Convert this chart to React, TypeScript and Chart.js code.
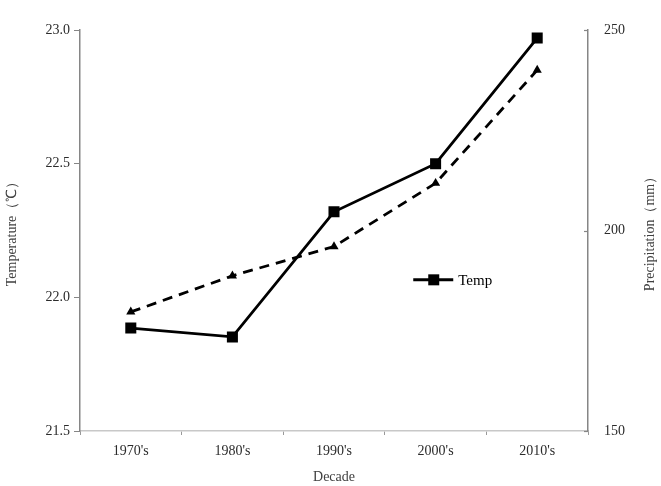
import React, { useEffect, useRef } from "react";
import { Chart, registerables } from "chart.js";

Chart.register(...registerables);

const decades = ["1970's", "1980's", "1990's", "2000's", "2010's"];
const temperature = [21.885, 21.852, 22.32, 22.5, 22.97];
const precipitation = [179.7, 188.7, 196, 211.8, 240];
const tempTicks = [21.5, 22.0, 22.5, 23.0];
const precipTicks = [150, 200, 250];

const SERIF = "'Liberation Serif', 'Times New Roman', serif";

const legendPlugin = {
  id: "innerLegend",
  afterDraw(chart: any) {
    const { ctx, chartArea } = chart;
    const x0 = chartArea.left + (chartArea.right - chartArea.left) * 0.656;
    const y0 = chartArea.top + (chartArea.bottom - chartArea.top) * 0.623;
    ctx.save();
    ctx.strokeStyle = "#000";
    ctx.lineWidth = 3;
    ctx.beginPath();
    ctx.moveTo(x0, y0);
    ctx.lineTo(x0 + 40, y0);
    ctx.stroke();
    ctx.fillStyle = "#000";
    ctx.fillRect(x0 + 15, y0 - 5.5, 11, 11);
    ctx.font = "15px " + SERIF;
    ctx.textBaseline = "middle";
    ctx.textAlign = "left";
    ctx.fillText("Temp", x0 + 45, y0 + 1);
    ctx.restore();
  },
};

const rightAxisPlugin = {
  id: "rightAxisExtras",
  afterDraw(chart: any) {
    const scale = chart.scales.y1;
    if (!scale) return;
    const { ctx, chartArea } = chart;
    ctx.save();
    ctx.strokeStyle = "#868686";
    ctx.lineWidth = 1.2;
    for (const v of precipTicks) {
      const y = Math.round(scale.getPixelForValue(v)) + 0.5;
      ctx.beginPath();
      ctx.moveTo(scale.left, y);
      ctx.lineTo(scale.left - 4, y);
      ctx.stroke();
    }
    // axis title, reading bottom-to-top like the left one
    ctx.translate(scale.right - 11, (chartArea.top + chartArea.bottom) / 2);
    ctx.rotate(-Math.PI / 2);
    ctx.fillStyle = "#404040";
    ctx.font = "14px " + SERIF;
    ctx.textAlign = "center";
    ctx.textBaseline = "middle";
    ctx.fillText("Precipitation（mm）", 0, 0);
    ctx.restore();
  },
};

export default function App() {
  const ref = useRef<HTMLCanvasElement | null>(null);

  useEffect(() => {
    document.body.style.margin = "0";
    const canvas = ref.current;
    if (!canvas) return;
    const chart = new Chart(canvas, {
      type: "line",
      data: {
        labels: decades,
        datasets: [
          {
            label: "Temp",
            data: temperature,
            yAxisID: "y",
            borderColor: "#000",
            backgroundColor: "#000",
            borderWidth: 2.8,
            pointStyle: "rect",
            pointRadius: 7.8,
            pointBorderWidth: 0,
            tension: 0,
          },
          {
            label: "Precip",
            data: precipitation,
            yAxisID: "y1",
            borderColor: "#000",
            backgroundColor: "#000",
            borderWidth: 2.8,
            borderDash: [10, 7],
            pointStyle: "triangle",
            pointRadius: 5.3,
            pointBorderWidth: 0,
            tension: 0,
          },
        ],
      },
      options: {
        responsive: false,
        animation: false,
        devicePixelRatio: 1,
        layout: { padding: { top: 30, left: 0, right: 0, bottom: 0 } },
        plugins: {
          legend: { display: false },
          tooltip: { enabled: false },
        },
        scales: {
          x: {
            type: "category",
            offset: true,
            afterFit(scale: any) {
              scale.height = 55;
            },
            grid: {
              offset: true,
              drawOnChartArea: false,
              drawTicks: true,
              tickLength: 4,
              color: "#999",
            },
            border: { color: "#c8c8c8", width: 1.5 },
            ticks: {
              color: "#2b2b2b",
              font: { family: SERIF, size: 14 },
              padding: 8,
              maxRotation: 0,
            },
            title: {
              display: true,
              text: "Decade",
              color: "#404040",
              font: { family: SERIF, size: 14 },
              padding: { top: 0, bottom: 0 },
            },
          },
          y: {
            position: "left",
            min: 21.5,
            max: 23.0,
            afterFit(scale: any) {
              scale.width = 80;
            },
            afterBuildTicks(scale: any) {
              scale.ticks = tempTicks.map((v) => ({ value: v }));
            },
            grid: {
              drawOnChartArea: false,
              drawTicks: true,
              tickLength: 6,
              color: "#868686",
            },
            border: { color: "#868686", width: 1.5 },
            ticks: {
              color: "#2b2b2b",
              font: { family: SERIF, size: 14 },
              padding: 4,
              callback: (v: any) => Number(v).toFixed(1),
            },
            title: {
              display: true,
              text: "Temperature（℃）",
              color: "#404040",
              font: { family: SERIF, size: 14 },
              padding: { top: 4, bottom: 0 },
            },
          },
          y1: {
            position: "right",
            min: 150,
            max: 250,
            afterFit(scale: any) {
              scale.width = 73;
            },
            afterBuildTicks(scale: any) {
              scale.ticks = precipTicks.map((v) => ({ value: v }));
            },
            grid: {
              drawOnChartArea: false,
              drawTicks: false,
            },
            border: { color: "#868686", width: 1.5 },
            ticks: {
              color: "#2b2b2b",
              font: { family: SERIF, size: 14 },
              padding: 16,
            },
            title: { display: false },
          },
        },
      },
      plugins: [legendPlugin, rightAxisPlugin],
    } as any);
    return () => chart.destroy();
  }, []);

  return (
    <div style={{ width: 661, height: 486, background: "#fff" }}>
      <canvas ref={ref} width={661} height={486} style={{ display: "block" }} />
    </div>
  );
}
